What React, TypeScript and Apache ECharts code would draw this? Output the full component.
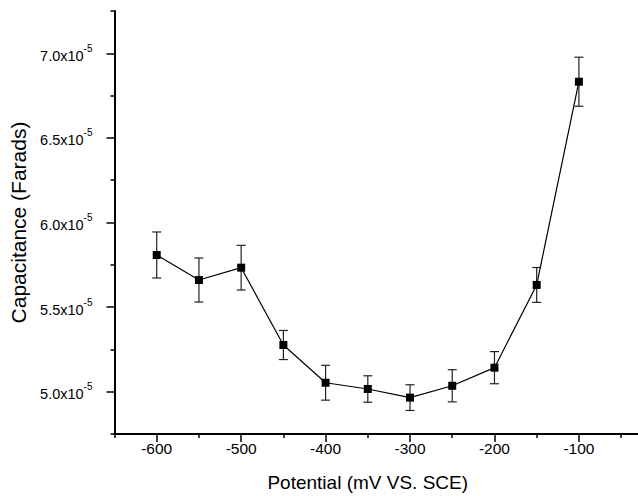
import React, { useEffect, useRef } from "react";
import * as echarts from "echarts";

const potentials = [-600, -550, -500, -450, -400, -350, -300, -250, -200, -150, -100];
const capacitance = [5.808e-5, 5.66e-5, 5.733e-5, 5.276e-5, 5.053e-5, 5.016e-5, 4.965e-5, 5.035e-5, 5.142e-5, 5.631e-5, 6.832e-5];
const errors = [0.136e-5, 0.13e-5, 0.132e-5, 0.086e-5, 0.103e-5, 0.078e-5, 0.076e-5, 0.095e-5, 0.095e-5, 0.103e-5, 0.145e-5];

const xMajorTicks = [-600, -500, -400, -300, -200, -100];
const xMinorTicks = [-650, -550, -450, -350, -250, -150, -50];
const yMajorTicks = [5.0e-5, 5.5e-5, 6.0e-5, 6.5e-5, 7.0e-5];
const yMinorTicks = [4.75e-5, 5.25e-5, 5.75e-5, 6.25e-5, 6.75e-5, 7.25e-5];

const FONT = "'Liberation Sans', Arial, sans-serif";

export default function App() {
  const ref = useRef<HTMLDivElement>(null);
  useEffect(() => {
    if (!ref.current) return;
    const chart = echarts.init(ref.current, null, { renderer: "svg" });
    const xMin = -650, xMax = -30, yMin = 4.75e-5, yMax = 7.25e-5;
    const axisLineStyle = { color: "#000", width: 2 };
    chart.setOption({
      animation: false,
      backgroundColor: "#fff",
      grid: { left: 114.5, right: 0, top: 11, bottom: 62, containLabel: false, outerBoundsMode: "none" },
      xAxis: [
        {
          type: "value", min: xMin, max: xMax,
          splitLine: { show: false },
          axisLine: { show: true, onZero: false, lineStyle: axisLineStyle },
          axisTick: { show: true, length: 8, lineStyle: { color: "#000", width: 1.5 }, customValues: xMajorTicks },
          axisLabel: { show: true, customValues: xMajorTicks, margin: 6, color: "#000", fontSize: 15.5, fontFamily: FONT },
          name: "Potential (mV VS. SCE)", nameLocation: "middle", nameGap: 39,
          nameTextStyle: { color: "#000", fontSize: 19, fontFamily: FONT, padding: [0, 17, 0, 0] },
        },
        {
          type: "value", min: xMin, max: xMax, position: "bottom",
          splitLine: { show: false },
          axisLine: { show: false, onZero: false },
          axisTick: { show: true, length: 4, lineStyle: { color: "#000", width: 1.5 }, customValues: xMinorTicks },
          axisLabel: { show: false },
        },
      ],
      yAxis: [
        {
          type: "value", min: yMin, max: yMax,
          splitLine: { show: false },
          axisLine: { show: true, onZero: false, lineStyle: axisLineStyle },
          axisTick: { show: true, length: 8, lineStyle: { color: "#000", width: 1.5 }, customValues: yMajorTicks },
          axisLabel: {
            show: true, customValues: yMajorTicks, margin: 22,
            formatter: (v: number) => `{b|${(v * 1e5).toFixed(1)}x10}{s|-5}`,
            rich: {
              b: { fontSize: 14.5, fontFamily: FONT, color: "#000", lineHeight: 20, verticalAlign: "bottom" },
              s: { fontSize: 10, fontFamily: FONT, color: "#000", lineHeight: 10, verticalAlign: "top" },
            },
          },
          name: "Capacitance (Farads)", nameLocation: "middle", nameGap: 86,
          nameTextStyle: { color: "#000", fontSize: 21, fontFamily: FONT },
        },
        {
          type: "value", min: yMin, max: yMax, position: "left",
          splitLine: { show: false },
          axisLine: { show: false, onZero: false },
          axisTick: { show: true, length: 4, lineStyle: { color: "#000", width: 1.5 }, customValues: yMinorTicks },
          axisLabel: { show: false },
        },
      ],
      series: [
        {
          type: "custom",
          z: 1,
          data: potentials.map((p, i) => [p, capacitance[i], errors[i]]),
          renderItem: (params: any, api: any) => {
            const x = api.value(0), y = api.value(1), e = api.value(2);
            const top = api.coord([x, y + e]);
            const bot = api.coord([x, y - e]);
            const hw = 4.5;
            const style = { stroke: "#222", lineWidth: 1.2 };
            return {
              type: "group",
              children: [
                { type: "line", shape: { x1: top[0], y1: top[1], x2: bot[0], y2: bot[1] }, style },
                { type: "line", shape: { x1: top[0] - hw, y1: top[1], x2: top[0] + hw, y2: top[1] }, style },
                { type: "line", shape: { x1: bot[0] - hw, y1: bot[1], x2: bot[0] + hw, y2: bot[1] }, style },
              ],
            };
          },
        },
        {
          type: "line",
          z: 3,
          data: potentials.map((p, i) => [p, capacitance[i]]),
          symbol: "rect",
          symbolSize: 8,
          lineStyle: { color: "#000", width: 1.2 },
          itemStyle: { color: "#000" },
        },
      ],
    });
    return () => chart.dispose();
  }, []);
  return <div ref={ref} style={{ position: "absolute", left: 0, top: 0, width: 638, height: 496 }} />;
}
